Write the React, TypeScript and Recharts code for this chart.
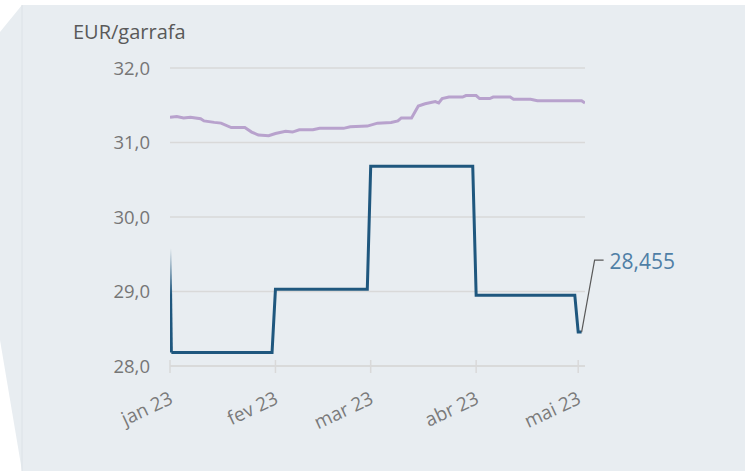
import React from "react";
import { LineChart, Line, XAxis, YAxis, CartesianGrid, LabelList } from "recharts";

// x = days since 1 Jan 2023
const monthTicks = [0, 31, 59, 90, 120];
const monthLabels = ["jan 23", "fev 23", "mar 23", "abr 23", "mai 23"];
const yTicks = [28, 29, 30, 31, 32];

const startDays = [0, 0.4];
const startValues = [29.58, 28.18];

const priceDays = [0.4, 30, 31, 58, 59, 89, 90, 119, 120, 121];
const priceValues = [28.18, 28.18, 29.03, 29.03, 30.68, 30.68, 28.95, 28.95, 28.455, 28.455];

const avgDays = [0, 2, 4, 6, 9, 10, 13, 15, 18, 22, 24, 26, 29, 31, 34, 36, 38, 42, 44, 51, 53, 58, 61, 65, 67, 68, 71, 73, 75, 76, 78, 79, 80, 82, 86, 87, 90, 91, 94, 95, 100, 101, 106, 108, 120, 121, 122];
const avgValues = [31.34, 31.35, 31.33, 31.34, 31.32, 31.29, 31.27, 31.26, 31.2, 31.2, 31.14, 31.1, 31.09, 31.12, 31.15, 31.14, 31.17, 31.17, 31.19, 31.19, 31.21, 31.22, 31.26, 31.27, 31.29, 31.33, 31.33, 31.49, 31.52, 31.53, 31.55, 31.53, 31.59, 31.61, 31.61, 31.63, 31.63, 31.59, 31.59, 31.61, 31.61, 31.58, 31.58, 31.56, 31.56, 31.56, 31.53];

const startData = startDays.map((d, i) => ({ day: d, value: startValues[i] }));
const priceData = priceDays.map((d, i) => ({ day: d, value: priceValues[i] }));
const avgData = avgDays.map((d, i) => ({ day: d, value: avgValues[i] }));

const FONT = "'Open Sans', 'Noto Sans', sans-serif";
const DARK = "#1f577e";
const LILAC = "#b8a2cd";
const GRID = "#d9d9d9";

const fmt = (v: number) => v.toFixed(1).replace(".", ",");

const XTick = (props: any) => {
  const { x, y, payload } = props;
  const idx = monthTicks.indexOf(payload.value);
  const label = idx >= 0 ? monthLabels[idx] : "";
  const tx = x + 4;
  const ty = y + 37;
  return (
    <g>
      <line x1={x} x2={x} y1={y - 6} y2={y + 7} stroke={GRID} strokeWidth={1.5} />
      <text
        x={tx}
        y={ty}
        transform={`rotate(-25 ${tx} ${ty})`}
        textAnchor="end"
        fill="#7a7a7a"
        fontSize={19}
        fontFamily={FONT}
      >
        {label}
      </text>
    </g>
  );
};

const LastLabel = (props: any) => {
  const { x, y, index, value } = props;
  if (index !== priceData.length - 1) return null;
  return (
    <g>
      <path
        d={`M ${x} ${y} L ${x + 13} ${y - 72} L ${x + 22} ${y - 72}`}
        fill="none"
        stroke="#595959"
        strokeWidth={1.2}
      />
      <text x={x + 28} y={y - 63} fill="#4f7fa6" fontSize={21} fontFamily={FONT}>
        {String(value).replace(".", ",")}
      </text>
    </g>
  );
};

export default function App() {
  return (
    <div style={{ position: "absolute", left: 0, top: 0, width: 754, height: 471 }}>
      <svg width={754} height={471} style={{ position: "absolute", left: 0, top: 0 }}>
        <rect x={0} y={0} width={754} height={471} fill="#ffffff" />
        <polygon points="22,5 745,5 745,471 22,471 0,340 0,32" fill="#e8edf1" />
        <line x1={22} x2={22} y1={5} y2={471} stroke="#dce2e7" strokeWidth={1} />
        <text x={73} y={39} fill="#595959" fontSize={20} fontFamily={FONT}>
          EUR/garrafa
        </text>
      </svg>
      <div style={{ position: "absolute", left: 0, top: 0 }}>
        <LineChart width={754} height={471} margin={{ top: 68, right: 169, bottom: 0, left: 0 }}>
          <defs>
            <linearGradient id="fadeIn" x1="0" y1="0" x2="0" y2="1">
              <stop offset="0" stopColor={DARK} stopOpacity={0} />
              <stop offset="0.45" stopColor={DARK} stopOpacity={1} />
              <stop offset="1" stopColor={DARK} stopOpacity={1} />
            </linearGradient>
          </defs>
          <CartesianGrid horizontal vertical={false} stroke={GRID} strokeWidth={1.5} />
          <XAxis
            dataKey="day"
            type="number"
            domain={[0, 122]}
            ticks={monthTicks}
            interval={0}
            height={105}
            tickSize={0}
            tickMargin={0}
            tickLine={false}
            axisLine={{ stroke: GRID, strokeWidth: 1.5 }}
            tick={<XTick />}
            allowDataOverflow
          />
          <YAxis
            type="number"
            domain={[28, 32]}
            ticks={yTicks}
            width={170}
            tickSize={0}
            tickMargin={20}
            axisLine={false}
            tickLine={false}
            tickFormatter={fmt}
            tick={{ fill: "#767676", fontSize: 18.5, fontFamily: FONT }}
          />
          <Line
            data={avgData}
            dataKey="value"
            type="linear"
            stroke={LILAC}
            strokeWidth={3}
            dot={false}
            activeDot={false}
            isAnimationActive={false}
          />
          <Line
            data={startData}
            dataKey="value"
            type="linear"
            stroke="url(#fadeIn)"
            strokeWidth={3}
            dot={false}
            activeDot={false}
            isAnimationActive={false}
          />
          <Line
            data={priceData}
            dataKey="value"
            type="linear"
            stroke={DARK}
            strokeWidth={3}
            dot={false}
            activeDot={false}
            isAnimationActive={false}
          >
            <LabelList dataKey="value" content={<LastLabel />} />
          </Line>
        </LineChart>
      </div>
    </div>
  );
}
